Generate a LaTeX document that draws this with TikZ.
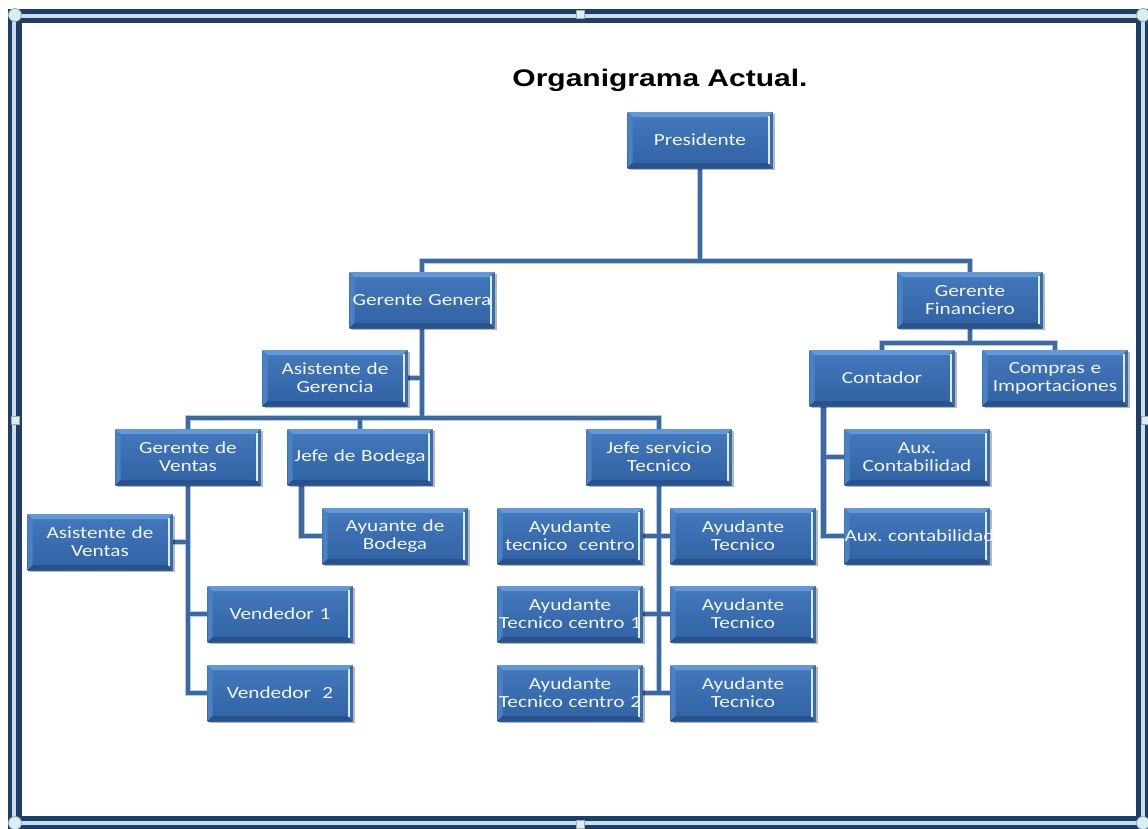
\documentclass[tikz,border=0pt]{standalone}
\usepackage{fontspec}
\newfontfamily\boxfont[FakeStretch=1.25]{Carlito}
\newfontfamily\titlefont[FakeStretch=1.25]{Liberation Sans}
\usetikzlibrary{shadows}
\pgfdeclarelayer{back}
\pgfdeclarelayer{bg}
\pgfsetlayers{back,bg,main}
\frenchspacing

\definecolor{faceTop}{HTML}{4479BD}
\definecolor{faceBot}{HTML}{3062A3}
\definecolor{bevTop}{HTML}{6497D6}
\definecolor{bevLeft}{HTML}{4A80C4}
\definecolor{bevBot}{HTML}{27528C}
\definecolor{bevRight}{HTML}{3A6BAA}
\definecolor{bevGlint}{HTML}{D8EEFB}
\definecolor{boxtext}{HTML}{F2F7FC}
\definecolor{connBlue}{HTML}{3D69A2}
\definecolor{connHalo}{HTML}{B4CAE4}
\definecolor{frameDark}{HTML}{1E3E68}
\definecolor{frameLight}{HTML}{C9DDEC}
\definecolor{handleFill}{HTML}{D7EEF3}

% bevelled edges of a chart box
\newcommand\orgbevel{%
  \def\pp{path picture bounding box}%
  \fill[bevTop] (\pp.north west) -- (\pp.north east)
     -- ([shift={(-5pt,-5pt)}]\pp.north east) -- ([shift={(5pt,-5pt)}]\pp.north west) -- cycle;
  \fill[bevLeft] (\pp.north west) -- ([shift={(5pt,-5pt)}]\pp.north west)
     -- ([shift={(5pt,5pt)}]\pp.south west) -- (\pp.south west) -- cycle;
  \fill[bevBot] (\pp.south west) -- ([shift={(5pt,5pt)}]\pp.south west)
     -- ([shift={(-5pt,5pt)}]\pp.south east) -- (\pp.south east) -- cycle;
  \fill[bevRight] (\pp.north east) -- ([shift={(-5pt,-5pt)}]\pp.north east)
     -- ([shift={(-5pt,5pt)}]\pp.south east) -- (\pp.south east) -- cycle;
  \draw[bevGlint, line width=2pt] ([shift={(-4pt,-4pt)}]\pp.north east) -- ([shift={(-4pt,4pt)}]\pp.south east);
}

% all reporting lines, drawn with the style given
\newcommand\chartlinks[1]{%
  % president to managers
  \draw[#1] (pres.south) -- (pres.south |- bus1) -| (gg.north);
  \draw[#1] (pres.south |- bus1) -| (gf.north);
  % general manager branch
  \draw[#1] (gg.south) -- (gg.south |- bus2);
  \draw[#1] (ag.east) -- (gg.south |- ag.east);
  \draw[#1] (gv.north) -- (gv.north |- bus2) -| (js.north);
  \draw[#1] (jb.north) -- (jb.north |- bus2);
  % sales
  \draw[#1] (gv.south) |- (v2.west);
  \draw[#1] (av.east) -- (gv.south |- av.east);
  \draw[#1] (v1.west) -- (gv.south |- v1.west);
  % warehouse
  \draw[#1] (btrunk) |- (ab.west);
  % technical service
  \draw[#1] (js.south) -- (js.south |- at2.east);
  \draw[#1] (at0.east) -- (atr1.west);
  \draw[#1] (at1.east) -- (atr2.west);
  \draw[#1] (at2.east) -- (atr3.west);
  % finance
  \draw[#1] (gf.south) -- (gf.south |- bus3);
  \draw[#1] (cont.north) |- (gf.south |- bus3) -| (comp.north);
  \draw[#1] (ctrunk) |- (aux2.west);
  \draw[#1] (aux1.west) -- (ctrunk |- aux1.west);
}

\tikzset{
  orgbox/.style={rectangle, minimum width=145pt, minimum height=56pt,
    text width=145pt, inner sep=0pt, align=center, text=boxtext,
    font=\boxfont\fontsize{17}{18}\selectfont,
    top color=faceTop, bottom color=faceBot,
    drop shadow={shadow xshift=2pt, shadow yshift=-2pt, fill=black, opacity=0.28},
    path picture={\orgbevel}},
  connhalo/.style={line width=6.5pt, draw=connHalo},
  conncore/.style={line width=4.5pt, draw=connBlue},
  handle/.style={fill=handleFill, draw=gray!70, line width=0.8pt}
}

\begin{document}
\begin{tikzpicture}[x=1pt, y=-1pt]
\useasboundingbox (0,0) rectangle (1148,828);
\begin{pgfonlayer}{back}
  \fill[white] (0,0) rectangle (1148,828);
\end{pgfonlayer}

% outer frame
\draw[line width=14pt, frameDark] (15,16) rectangle (1143,823);
\draw[line width=4pt, frameLight] (14,16) rectangle (1143,823);
\foreach \hx/\hy in {15/15, 1143/15, 15/823, 1143/823}
  \draw[handle] (\hx,\hy) circle (6.5pt);
\foreach \hx/\hy in {580/14, 15/420, 1145/420, 580/824}
  \draw[handle] (\hx-4,\hy-4) rectangle (\hx+4,\hy+4);

% title
\node (title) at (660,80) {\titlefont\bfseries\fontsize{24}{28}\selectfont Organigrama Actual.};

% chart boxes
\node[orgbox] (pres) at (700,140) {Presidente};
\node[orgbox] (gg)   at (422,300) {Gerente Genera};
\node[orgbox] (gf)   at (970,300) {Gerente\\Financiero};
\node[orgbox] (ag)   at (335,378) {Asistente de\\Gerencia};
\node[orgbox] (cont) at (882,378) {Contador};
\node[orgbox] (comp) at (1055,378) {Compras e\\Importaciones};
\node[orgbox] (gv)   at (188,457) {Gerente de\\Ventas};
\node[orgbox] (jb)   at (360,457) {Jefe de Bodega};
\node[orgbox] (js)   at (659,457) {Jefe servicio\\Tecnico};
\node[orgbox] (aux1) at (917,457) {Aux.\\Contabilidad};
\node[orgbox] (av)   at (100,542) {Asistente de\\Ventas};
\node[orgbox] (ab)   at (395,536) {Ayuante de\\Bodega};
\node[orgbox] (at0)  at (570,536) {Ayudante\\tecnico\ \ centro};
\node[orgbox] (atr1) at (743,536) {Ayudante\\Tecnico};
\node[orgbox] (aux2) at (917,536) {\mbox{Aux. contabilidad}};
\node[orgbox] (v1)   at (280,614) {Vendedor 1};
\node[orgbox] (at1)  at (570,614) {Ayudante\\Tecnico centro 1};
\node[orgbox] (atr2) at (743,614) {Ayudante\\Tecnico};
\node[orgbox] (v2)   at (280,693) {Vendedor\ \ 2};
\node[orgbox] (at2)  at (570,693) {Ayudante\\Tecnico centro 2};
\node[orgbox] (atr3) at (743,693) {Ayudante\\Tecnico};

% connector levels
\coordinate (bus1) at (0,261);
\coordinate (bus2) at (0,418);
\coordinate (bus3) at (0,343);
\coordinate (btrunk) at ([xshift=14pt]jb.south west);
\coordinate (ctrunk) at ([xshift=14pt]cont.south west);

\begin{pgfonlayer}{bg}
  \chartlinks{connhalo}
  \chartlinks{conncore}
\end{pgfonlayer}
\end{tikzpicture}
\end{document}
